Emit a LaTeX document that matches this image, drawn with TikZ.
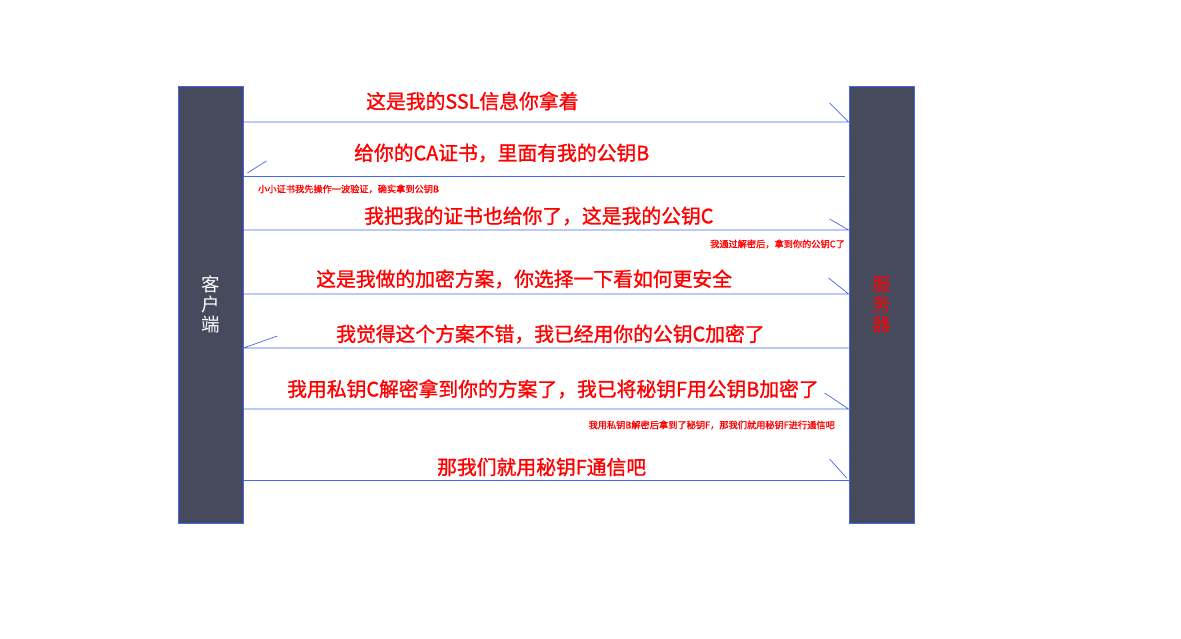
\documentclass[tikz,border=0pt]{standalone}
\usepackage{fontspec}
\setmainfont{Noto Sans CJK SC}
\newfontfamily\medfont{Noto Sans CJK SC}[FakeBold=1.2]
\usetikzlibrary{calc}
\definecolor{barFill}{HTML}{464A5C}
\definecolor{lineBlue}{HTML}{4466EE}
\definecolor{msgRed}{HTML}{FF0000}

\begin{document}
\begin{tikzpicture}[x=1pt, y=-1pt,
  bar/.style={draw=lineBlue, fill=barFill, line width=0.8pt, minimum width=65pt, minimum height=437pt, inner sep=0pt, align=center, font=\fontsize{18.5}{20}\selectfont},
  msg/.style={draw=lineBlue, line width=0.7pt},
  said/.style={text=msgRed, font=\medfont\fontsize{19.8}{24}\selectfont, anchor=west, inner sep=0pt},
  note/.style={text=msgRed, font=\medfont\fontsize{9.2}{11}\selectfont, inner sep=0pt},
]
\useasboundingbox (0,0) rectangle (1181,639);

% the two parties
\node[bar, text=white] (client) at (210.5,304.5) {客\\户\\端};
\node[bar, text=msgRed] (server) at (881.5,304.5) {服\\务\\器};

% message heights
\coordinate (m1) at (0,122);
\coordinate (m2) at (0,176);
\coordinate (m3) at (0,230);
\coordinate (m4) at (0,294);
\coordinate (m5) at (0,348);
\coordinate (m6) at (0,409);
\coordinate (m7) at (0,480);

% client -> server
\draw[msg] (client.east |- m1) -- (server.west |- m1) -- ++(-19,-19);
\draw[msg] (client.east |- m3) -- (server.west |- m3) -- ++(-19,-11);
\draw[msg] (client.east |- m4) -- (server.west |- m4) -- ++(-20,-16);
\draw[msg] (client.east |- m6) -- (server.west |- m6) -- ++(-24,-16);
\draw[msg] (client.east |- m7) -- (server.west |- m7);
\draw[msg] ($(server.west |- m7)+(-2,-2)$) -- ++(-17,-19);

% server -> client
\draw[msg] ($(server.west |- m2)+(-4,0)$) -- (client.east |- m2);
\draw[msg] ($(client.east |- m2)+(4,-3)$) -- ++(19,-12);
\draw[msg] (server.west |- m5) -- (client.east |- m5) -- ++(34,-12);

% what they say
\node[said] (t1) at (366,101) {这是我的SSL信息你拿着};
\node[said] (t2) at (354,153) {给你的CA证书，里面有我的公钥B};
\node[said] (t3) at (364,216) {我把我的证书也给你了，这是我的公钥C};
\node[said] (t4) at (316,279) {这是我做的加密方案，你选择一下看如何更安全};
\node[said] (t5) at (336,334) {我觉得这个方案不错，我已经用你的公钥C加密了};
\node[said] (t6) at (287,389) {我用私钥C解密拿到你的方案了，我已将秘钥F用公钥B加密了};
\node[said] (t7) at (437,467) {那我们就用秘钥F通信吧};

% what they think
\node[note, anchor=west] (n1) at (258,189) {小小证书我先操作一波验证，确实拿到公钥B};
\node[note, anchor=east] (n2) at (845,244) {我通过解密后，拿到你的公钥C了};
\node[note, anchor=east] (n3) at (835,425) {我用私钥B解密后拿到了秘钥F，那我们就用秘钥F进行通信吧};
\end{tikzpicture}
\end{document}
